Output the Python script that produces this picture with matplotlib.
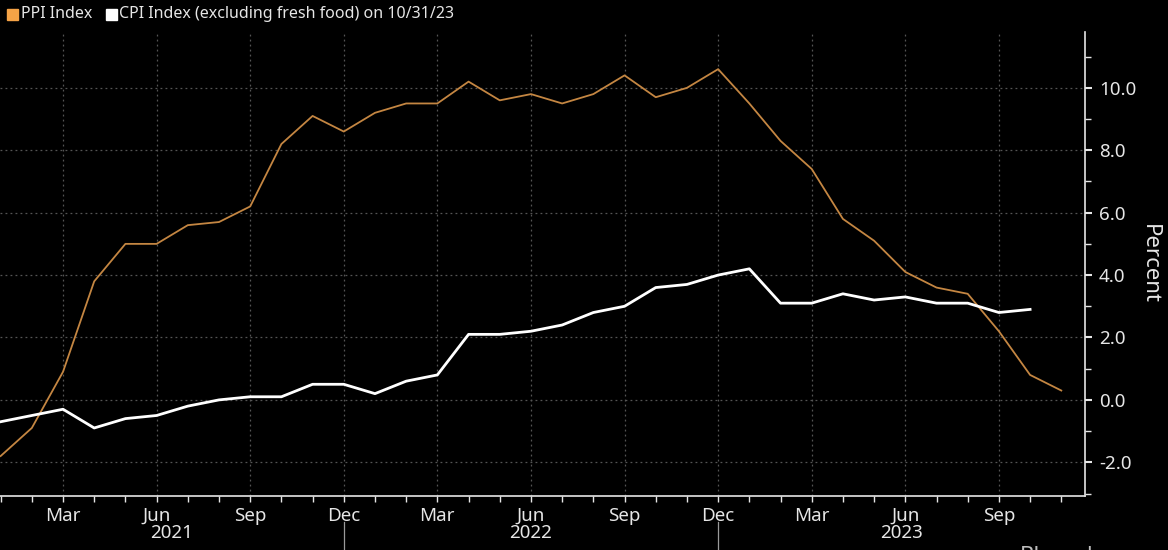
import numpy as np
import pandas as pd
import matplotlib
matplotlib.use("Agg")
import matplotlib.pyplot as plt
from matplotlib.patches import Rectangle
from matplotlib.lines import Line2D
import matplotlib.transforms as mtransforms

# ---------------- data ----------------
months = pd.date_range("2021-01-01", "2023-11-01", freq="MS")
ppi = [-1.8, -0.9, 0.9, 3.8, 5.0, 5.0, 5.6, 5.7, 6.2, 8.2, 9.1, 8.6,
       9.2, 9.5, 9.5, 10.2, 9.6, 9.8, 9.5, 9.8, 10.4, 9.7, 10.0, 10.6,
       9.5, 8.3, 7.4, 5.8, 5.1, 4.1, 3.6, 3.4, 2.2, 0.8, 0.3]
cpi = [-0.7, -0.5, -0.3, -0.9, -0.6, -0.5, -0.2, 0.0, 0.1, 0.1, 0.5, 0.5,
       0.2, 0.6, 0.8, 2.1, 2.1, 2.2, 2.4, 2.8, 3.0, 3.6, 3.7, 4.0,
       4.2, 3.1, 3.1, 3.4, 3.2, 3.3, 3.1, 3.1, 2.8, 2.9]
ppi_label = "PPI Index"
cpi_label = "CPI Index (excluding fresh food) on 10/31/23"
y_ticks = [-2, 0, 2, 4, 6, 8, 10]
y_label = "Percent"

# ---------------- style ----------------
FONT = ["Noto Sans", "DejaVu Sans"]
plt.rcParams["font.family"] = FONT
BG = "black"
FG = "#e6e6e6"
PPI_COLOR = "#c48642"
PPI_SWATCH = "#f5a346"
GRID = "#555555"

W, H = 1168, 550
fig = plt.figure(figsize=(W / 100, H / 100), dpi=100, facecolor=BG)
ax = fig.add_axes([0, 1 - 496 / H, 1085 / W, (496 - 32) / H], facecolor=BG)

x_ppi = np.arange(len(ppi))
x_cpi = np.arange(len(cpi))
ax.plot(x_ppi, ppi, color=PPI_COLOR, lw=1.3, zorder=3)
ax.plot(x_cpi, cpi, color="white", lw=2.0, zorder=4)

ax.set_xlim(-0.02, 34.76)
ax.set_ylim(-3.08, 11.79)

# spines
for s in ["top", "left"]:
    ax.spines[s].set_visible(False)
for s in ["right", "bottom"]:
    ax.spines[s].set_color(FG)
    ax.spines[s].set_linewidth(1.2)

# y axis on the right
ax.yaxis.tick_right()
ax.yaxis.set_label_position("right")
ax.set_yticks(y_ticks)
ax.set_yticklabels([f"{v:.1f}" for v in y_ticks])
ax.set_yticks(np.arange(-3, 12, 2), minor=True)
ax.tick_params(axis="y", which="major", colors=FG, labelcolor=FG, length=5,
               width=1.5, pad=5, labelsize=13.5, direction="out")
ax.tick_params(axis="y", which="minor", colors=FG, length=4, width=1,
               direction="out")
ax.set_ylabel(y_label, color=FG, fontsize=16, rotation=270, labelpad=17)

# x axis: months
qpos = [i for i, m in enumerate(months) if m.month in (3, 6, 9, 12)]
ax.set_xticks(qpos)
ax.set_xticklabels([months[i].strftime("%b") for i in qpos])
ax.set_xticks(np.arange(0, 35), minor=True)
ax.tick_params(axis="x", which="both", colors=FG, labelcolor=FG, length=4,
               width=1, direction="out", labelsize=13.5, pad=4)

# grid
ax.grid(True, which="major", axis="both", color=GRID, lw=0.9,
        linestyle=(0, (1.5, 2.5)))
ax.set_axisbelow(True)

# year labels and separators
trans = mtransforms.blended_transform_factory(ax.transData, ax.transAxes)
xl = ax.get_xlim()
dec_pos = [i for i, m in enumerate(months) if m.month == 12]
bounds = [xl[0]] + dec_pos + [xl[1]]
years = sorted(set(m.year for m in months))
ax_h_px = 496 - 32
for k, yr in enumerate(years):
    cx = (bounds[k] + bounds[k + 1]) / 2
    ax.text(cx, -(533 - 496) / ax_h_px, str(yr), transform=trans, ha="center",
            va="center", color=FG, fontsize=13.5, clip_on=False)
for d in dec_pos:
    ax.add_line(Line2D([d, d], [-(522 - 496) / ax_h_px, -(552 - 496) / ax_h_px],
                       transform=trans, color="#9a9a9a", lw=0.9, clip_on=False))

# legend (top-left)
def fx(px):
    return px / W

def fy(py):
    return 1 - py / H

fig.patches.append(Rectangle((fx(7), fy(20)), 11 / W, 11 / H, transform=fig.transFigure,
                             color=PPI_SWATCH, figure=fig))
fig.text(fx(21), fy(14.5), ppi_label, color=FG, fontsize=11.5, va="center", ha="left")
fig.patches.append(Rectangle((fx(106), fy(20)), 11 / W, 11 / H, transform=fig.transFigure,
                             color="white", figure=fig))
fig.text(fx(119), fy(14.5), cpi_label, color=FG, fontsize=11.5, va="center", ha="left")

# source text at bottom right, cut off by the lower edge as in the reference
fig.text(fx(1020), fy(546), "Bloomberg", color="#bdbdbd", fontsize=16, va="top", ha="left")

fig.savefig("out.png", dpi=100, facecolor=BG)
